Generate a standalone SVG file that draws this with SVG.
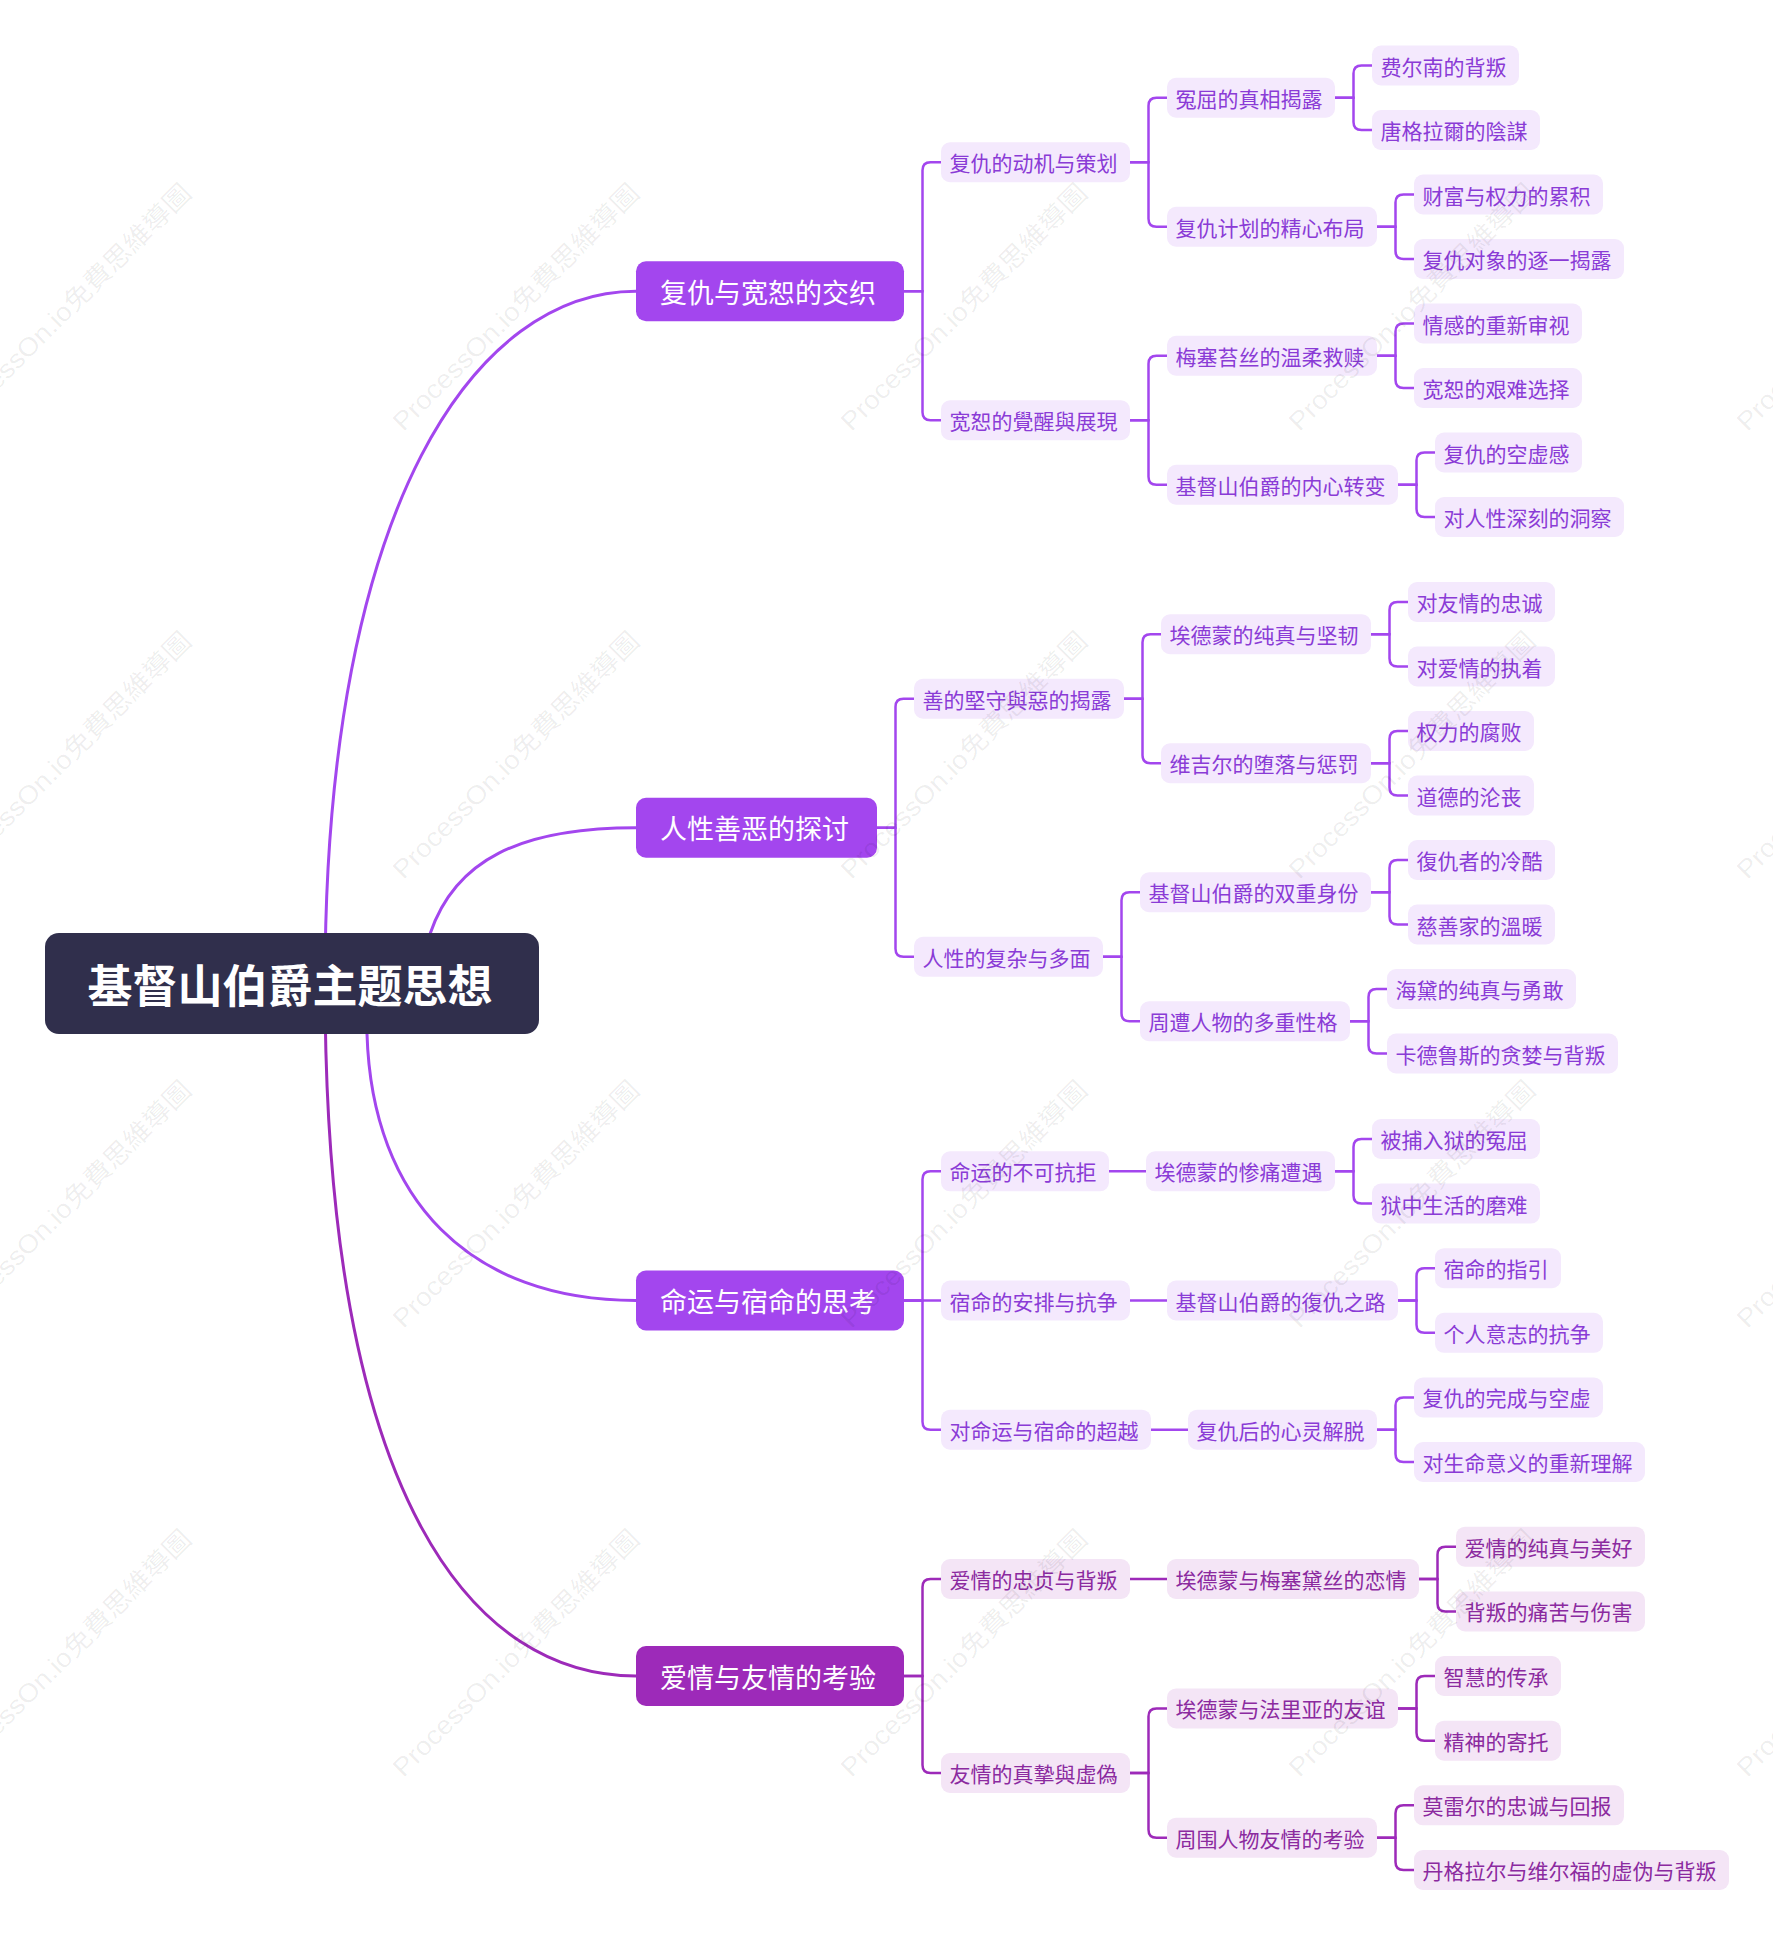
<svg xmlns="http://www.w3.org/2000/svg" width="1773" height="1950" viewBox="0 0 1773 1950">
<style>
text{font-family:"Noto Sans CJK SC","Noto Sans",sans-serif;text-anchor:middle;dominant-baseline:central}
.root rect{fill:#302f4c}
.root text{fill:#fff;font-size:45px;font-weight:bold;transform:translate(-2px,0)}
.l1 rect{fill:#a346ee}
.l1.p rect{fill:#9d2ab9}
.l1 text{fill:#fff;font-size:27px;transform:translate(-2px,0)}
.n rect{fill:#f4e9fd}
.n text{fill:#8a3bd6;font-size:21px;transform:translate(-2px,0)}
.n.p rect{fill:#f4e5f6}
.n.p text{fill:#8b2a9f}
.c path{fill:none;stroke:#a346ee;stroke-width:2.5}
.c path.p{stroke:#9d2ab9}
.c path.r{stroke-width:3}
.wm text{font-family:"Liberation Sans","Noto Sans CJK TC",sans-serif;font-size:26px;fill:#000;fill-opacity:0.07}
</style>
<rect width="1773" height="1950" fill="#fff"/>
<g id="connectors" class="c">
<path class="r" d="M325 983 C325 499 478 291.25 636 291.25"/>
<path class="r" d="M414 962 L430 934 C455 860 520 827.75 636 827.75"/>
<path class="r" d="M365 983 L367 1034 C372 1200 470 1300.5 636 1300.5"/>
<path class="r p" d="M325 983 C325 1510 478 1676 636 1676"/>
<path d="M904 291.25 H922.5 V170.25 Q922.5 162.25 930.5 162.25 H941"/>
<path d="M904 291.25 H922.5 V412.25 Q922.5 420.25 930.5 420.25 H941"/>
<path d="M1130 162.25 H1148.5 V105.75 Q1148.5 97.75 1156.5 97.75 H1167"/>
<path d="M1130 162.25 H1148.5 V218.75 Q1148.5 226.75 1156.5 226.75 H1167"/>
<path d="M1130 420.25 H1148.5 V363.75 Q1148.5 355.75 1156.5 355.75 H1167"/>
<path d="M1130 420.25 H1148.5 V476.75 Q1148.5 484.75 1156.5 484.75 H1167"/>
<path d="M1335 97.75 H1353.5 V73.5 Q1353.5 65.5 1361.5 65.5 H1372"/>
<path d="M1335 97.75 H1353.5 V122 Q1353.5 130 1361.5 130 H1372"/>
<path d="M1377 226.75 H1395.5 V202.5 Q1395.5 194.5 1403.5 194.5 H1414"/>
<path d="M1377 226.75 H1395.5 V251 Q1395.5 259 1403.5 259 H1414"/>
<path d="M1377 355.75 H1395.5 V331.5 Q1395.5 323.5 1403.5 323.5 H1414"/>
<path d="M1377 355.75 H1395.5 V380 Q1395.5 388 1403.5 388 H1414"/>
<path d="M1398 484.75 H1416.5 V460.5 Q1416.5 452.5 1424.5 452.5 H1435"/>
<path d="M1398 484.75 H1416.5 V509 Q1416.5 517 1424.5 517 H1435"/>
<path d="M877 827.75 H895.5 V706.75 Q895.5 698.75 903.5 698.75 H914"/>
<path d="M877 827.75 H895.5 V948.75 Q895.5 956.75 903.5 956.75 H914"/>
<path d="M1124 698.75 H1142.5 V642.25 Q1142.5 634.25 1150.5 634.25 H1161"/>
<path d="M1124 698.75 H1142.5 V755.25 Q1142.5 763.25 1150.5 763.25 H1161"/>
<path d="M1103 956.75 H1121.5 V900.25 Q1121.5 892.25 1129.5 892.25 H1140"/>
<path d="M1103 956.75 H1121.5 V1013.25 Q1121.5 1021.25 1129.5 1021.25 H1140"/>
<path d="M1371 634.25 H1389.5 V610 Q1389.5 602 1397.5 602 H1408"/>
<path d="M1371 634.25 H1389.5 V658.5 Q1389.5 666.5 1397.5 666.5 H1408"/>
<path d="M1371 763.25 H1389.5 V739 Q1389.5 731 1397.5 731 H1408"/>
<path d="M1371 763.25 H1389.5 V787.5 Q1389.5 795.5 1397.5 795.5 H1408"/>
<path d="M1371 892.25 H1389.5 V868 Q1389.5 860 1397.5 860 H1408"/>
<path d="M1371 892.25 H1389.5 V916.5 Q1389.5 924.5 1397.5 924.5 H1408"/>
<path d="M1350 1021.25 H1368.5 V997 Q1368.5 989 1376.5 989 H1387"/>
<path d="M1350 1021.25 H1368.5 V1045.5 Q1368.5 1053.5 1376.5 1053.5 H1387"/>
<path d="M904 1300.5 H922.5 V1179.3 Q922.5 1171.3 930.5 1171.3 H941"/>
<path d="M904 1300.5 H941"/>
<path d="M904 1300.5 H922.5 V1421.7 Q922.5 1429.7 930.5 1429.7 H941"/>
<path d="M1109 1171.3 H1146"/>
<path d="M1130 1300.5 H1167"/>
<path d="M1151 1429.7 H1188"/>
<path d="M1335 1171.3 H1353.5 V1147 Q1353.5 1139 1361.5 1139 H1372"/>
<path d="M1335 1171.3 H1353.5 V1195.6 Q1353.5 1203.6 1361.5 1203.6 H1372"/>
<path d="M1398 1300.5 H1416.5 V1276.2 Q1416.5 1268.2 1424.5 1268.2 H1435"/>
<path d="M1398 1300.5 H1416.5 V1324.8 Q1416.5 1332.8 1424.5 1332.8 H1435"/>
<path d="M1377 1429.7 H1395.5 V1405.4 Q1395.5 1397.4 1403.5 1397.4 H1414"/>
<path d="M1377 1429.7 H1395.5 V1454 Q1395.5 1462 1403.5 1462 H1414"/>
<path class="p" d="M904 1676 H922.5 V1587 Q922.5 1579 930.5 1579 H941"/>
<path class="p" d="M904 1676 H922.5 V1765 Q922.5 1773 930.5 1773 H941"/>
<path class="p" d="M1130 1579 H1167"/>
<path class="p" d="M1130 1773 H1148.5 V1716.4 Q1148.5 1708.4 1156.5 1708.4 H1167"/>
<path class="p" d="M1130 1773 H1148.5 V1829.7 Q1148.5 1837.7 1156.5 1837.7 H1167"/>
<path class="p" d="M1419 1579 H1437.5 V1554.7 Q1437.5 1546.7 1445.5 1546.7 H1456"/>
<path class="p" d="M1419 1579 H1437.5 V1603.4 Q1437.5 1611.4 1445.5 1611.4 H1456"/>
<path class="p" d="M1398 1708.4 H1416.5 V1684 Q1416.5 1676 1424.5 1676 H1435"/>
<path class="p" d="M1398 1708.4 H1416.5 V1732.7 Q1416.5 1740.7 1424.5 1740.7 H1435"/>
<path class="p" d="M1377 1837.7 H1395.5 V1813.3 Q1395.5 1805.3 1403.5 1805.3 H1414"/>
<path class="p" d="M1377 1837.7 H1395.5 V1862 Q1395.5 1870 1403.5 1870 H1414"/>
</g>
<g id="root" class="root"><rect x="45" y="933" width="494" height="101" rx="14"/><text x="292" y="983.5">基督山伯爵主题思想</text></g>
<g id="b1" class="l1"><rect x="636" y="261.25" width="268" height="60" rx="10"/><text x="770" y="291.25">复仇与宽恕的交织</text></g>
<g id="b1-1" class="n"><rect x="941" y="142.25" width="189" height="40" rx="9"/><text x="1035.5" y="162.25">复仇的动机与策划</text></g>
<g id="b1-2" class="n"><rect x="941" y="400.25" width="189" height="40" rx="9"/><text x="1035.5" y="420.25">宽恕的覺醒與展現</text></g>
<g id="b1-1-1" class="n"><rect x="1167" y="77.75" width="168" height="40" rx="9"/><text x="1251" y="97.75">冤屈的真相揭露</text></g>
<g id="b1-1-2" class="n"><rect x="1167" y="206.75" width="210" height="40" rx="9"/><text x="1272" y="226.75">复仇计划的精心布局</text></g>
<g id="b1-2-1" class="n"><rect x="1167" y="335.75" width="210" height="40" rx="9"/><text x="1272" y="355.75">梅塞苔丝的温柔救赎</text></g>
<g id="b1-2-2" class="n"><rect x="1167" y="464.75" width="231" height="40" rx="9"/><text x="1282.5" y="484.75">基督山伯爵的内心转变</text></g>
<g id="b1-1-1-1" class="n"><rect x="1372" y="45.5" width="147" height="40" rx="9"/><text x="1445.5" y="65.5">费尔南的背叛</text></g>
<g id="b1-1-1-2" class="n"><rect x="1372" y="110" width="168" height="40" rx="9"/><text x="1456" y="130">唐格拉爾的陰謀</text></g>
<g id="b1-1-2-1" class="n"><rect x="1414" y="174.5" width="189" height="40" rx="9"/><text x="1508.5" y="194.5">财富与权力的累积</text></g>
<g id="b1-1-2-2" class="n"><rect x="1414" y="239" width="210" height="40" rx="9"/><text x="1519" y="259">复仇对象的逐一揭露</text></g>
<g id="b1-2-1-1" class="n"><rect x="1414" y="303.5" width="168" height="40" rx="9"/><text x="1498" y="323.5">情感的重新审视</text></g>
<g id="b1-2-1-2" class="n"><rect x="1414" y="368" width="168" height="40" rx="9"/><text x="1498" y="388">宽恕的艰难选择</text></g>
<g id="b1-2-2-1" class="n"><rect x="1435" y="432.5" width="147" height="40" rx="9"/><text x="1508.5" y="452.5">复仇的空虚感</text></g>
<g id="b1-2-2-2" class="n"><rect x="1435" y="497" width="189" height="40" rx="9"/><text x="1529.5" y="517">对人性深刻的洞察</text></g>
<g id="b2" class="l1"><rect x="636" y="797.75" width="241" height="60" rx="10"/><text x="756.5" y="827.75">人性善恶的探讨</text></g>
<g id="b2-1" class="n"><rect x="914" y="678.75" width="210" height="40" rx="9"/><text x="1019" y="698.75">善的堅守與惡的揭露</text></g>
<g id="b2-2" class="n"><rect x="914" y="936.75" width="189" height="40" rx="9"/><text x="1008.5" y="956.75">人性的复杂与多面</text></g>
<g id="b2-1-1" class="n"><rect x="1161" y="614.25" width="210" height="40" rx="9"/><text x="1266" y="634.25">埃德蒙的纯真与坚韧</text></g>
<g id="b2-1-2" class="n"><rect x="1161" y="743.25" width="210" height="40" rx="9"/><text x="1266" y="763.25">维吉尔的堕落与惩罚</text></g>
<g id="b2-2-1" class="n"><rect x="1140" y="872.25" width="231" height="40" rx="9"/><text x="1255.5" y="892.25">基督山伯爵的双重身份</text></g>
<g id="b2-2-2" class="n"><rect x="1140" y="1001.25" width="210" height="40" rx="9"/><text x="1245" y="1021.25">周遭人物的多重性格</text></g>
<g id="b2-1-1-1" class="n"><rect x="1408" y="582" width="147" height="40" rx="9"/><text x="1481.5" y="602">对友情的忠诚</text></g>
<g id="b2-1-1-2" class="n"><rect x="1408" y="646.5" width="147" height="40" rx="9"/><text x="1481.5" y="666.5">对爱情的执着</text></g>
<g id="b2-1-2-1" class="n"><rect x="1408" y="711" width="126" height="40" rx="9"/><text x="1471" y="731">权力的腐败</text></g>
<g id="b2-1-2-2" class="n"><rect x="1408" y="775.5" width="126" height="40" rx="9"/><text x="1471" y="795.5">道德的沦丧</text></g>
<g id="b2-2-1-1" class="n"><rect x="1408" y="840" width="147" height="40" rx="9"/><text x="1481.5" y="860">復仇者的冷酷</text></g>
<g id="b2-2-1-2" class="n"><rect x="1408" y="904.5" width="147" height="40" rx="9"/><text x="1481.5" y="924.5">慈善家的溫暖</text></g>
<g id="b2-2-2-1" class="n"><rect x="1387" y="969" width="189" height="40" rx="9"/><text x="1481.5" y="989">海黛的纯真与勇敢</text></g>
<g id="b2-2-2-2" class="n"><rect x="1387" y="1033.5" width="231" height="40" rx="9"/><text x="1502.5" y="1053.5">卡德鲁斯的贪婪与背叛</text></g>
<g id="b3" class="l1"><rect x="636" y="1270.5" width="268" height="60" rx="10"/><text x="770" y="1300.5">命运与宿命的思考</text></g>
<g id="b3-1" class="n"><rect x="941" y="1151.3" width="168" height="40" rx="9"/><text x="1025" y="1171.3">命运的不可抗拒</text></g>
<g id="b3-2" class="n"><rect x="941" y="1280.5" width="189" height="40" rx="9"/><text x="1035.5" y="1300.5">宿命的安排与抗争</text></g>
<g id="b3-3" class="n"><rect x="941" y="1409.7" width="210" height="40" rx="9"/><text x="1046" y="1429.7">对命运与宿命的超越</text></g>
<g id="b3-1-1" class="n"><rect x="1146" y="1151.3" width="189" height="40" rx="9"/><text x="1240.5" y="1171.3">埃德蒙的惨痛遭遇</text></g>
<g id="b3-2-1" class="n"><rect x="1167" y="1280.5" width="231" height="40" rx="9"/><text x="1282.5" y="1300.5">基督山伯爵的復仇之路</text></g>
<g id="b3-3-1" class="n"><rect x="1188" y="1409.7" width="189" height="40" rx="9"/><text x="1282.5" y="1429.7">复仇后的心灵解脱</text></g>
<g id="b3-1-1-1" class="n"><rect x="1372" y="1119" width="168" height="40" rx="9"/><text x="1456" y="1139">被捕入狱的冤屈</text></g>
<g id="b3-1-1-2" class="n"><rect x="1372" y="1183.6" width="168" height="40" rx="9"/><text x="1456" y="1203.6">狱中生活的磨难</text></g>
<g id="b3-2-1-1" class="n"><rect x="1435" y="1248.2" width="126" height="40" rx="9"/><text x="1498" y="1268.2">宿命的指引</text></g>
<g id="b3-2-1-2" class="n"><rect x="1435" y="1312.8" width="168" height="40" rx="9"/><text x="1519" y="1332.8">个人意志的抗争</text></g>
<g id="b3-3-1-1" class="n"><rect x="1414" y="1377.4" width="189" height="40" rx="9"/><text x="1508.5" y="1397.4">复仇的完成与空虚</text></g>
<g id="b3-3-1-2" class="n"><rect x="1414" y="1442" width="231" height="40" rx="9"/><text x="1529.5" y="1462">对生命意义的重新理解</text></g>
<g id="b4" class="l1 p"><rect x="636" y="1646" width="268" height="60" rx="10"/><text x="770" y="1676">爱情与友情的考验</text></g>
<g id="b4-1" class="n p"><rect x="941" y="1559" width="189" height="40" rx="9"/><text x="1035.5" y="1579">爱情的忠贞与背叛</text></g>
<g id="b4-2" class="n p"><rect x="941" y="1753" width="189" height="40" rx="9"/><text x="1035.5" y="1773">友情的真摯與虛偽</text></g>
<g id="b4-1-1" class="n p"><rect x="1167" y="1559" width="252" height="40" rx="9"/><text x="1293" y="1579">埃德蒙与梅塞黛丝的恋情</text></g>
<g id="b4-2-1" class="n p"><rect x="1167" y="1688.4" width="231" height="40" rx="9"/><text x="1282.5" y="1708.4">埃德蒙与法里亚的友谊</text></g>
<g id="b4-2-2" class="n p"><rect x="1167" y="1817.7" width="210" height="40" rx="9"/><text x="1272" y="1837.7">周围人物友情的考验</text></g>
<g id="b4-1-1-1" class="n p"><rect x="1456" y="1526.7" width="189" height="40" rx="9"/><text x="1550.5" y="1546.7">爱情的纯真与美好</text></g>
<g id="b4-1-1-2" class="n p"><rect x="1456" y="1591.4" width="189" height="40" rx="9"/><text x="1550.5" y="1611.4">背叛的痛苦与伤害</text></g>
<g id="b4-2-1-1" class="n p"><rect x="1435" y="1656" width="126" height="40" rx="9"/><text x="1498" y="1676">智慧的传承</text></g>
<g id="b4-2-1-2" class="n p"><rect x="1435" y="1720.7" width="126" height="40" rx="9"/><text x="1498" y="1740.7">精神的寄托</text></g>
<g id="b4-2-2-1" class="n p"><rect x="1414" y="1785.3" width="210" height="40" rx="9"/><text x="1519" y="1805.3">莫雷尔的忠诚与回报</text></g>
<g id="b4-2-2-2" class="n p"><rect x="1414" y="1850" width="315" height="40" rx="9"/><text x="1571.5" y="1870">丹格拉尔与维尔福的虚伪与背叛</text></g>
<g id="watermarks" class="wm">
<text x="68" y="307" transform="rotate(-45 68 307)" textLength="336" lengthAdjust="spacingAndGlyphs">ProcessOn.io免費思維導圖</text>
<text x="516" y="307" transform="rotate(-45 516 307)" textLength="336" lengthAdjust="spacingAndGlyphs">ProcessOn.io免費思維導圖</text>
<text x="964" y="307" transform="rotate(-45 964 307)" textLength="336" lengthAdjust="spacingAndGlyphs">ProcessOn.io免費思維導圖</text>
<text x="1412" y="307" transform="rotate(-45 1412 307)" textLength="336" lengthAdjust="spacingAndGlyphs">ProcessOn.io免費思維導圖</text>
<text x="1860" y="307" transform="rotate(-45 1860 307)" textLength="336" lengthAdjust="spacingAndGlyphs">ProcessOn.io免費思維導圖</text>
<text x="68" y="755" transform="rotate(-45 68 755)" textLength="336" lengthAdjust="spacingAndGlyphs">ProcessOn.io免費思維導圖</text>
<text x="516" y="755" transform="rotate(-45 516 755)" textLength="336" lengthAdjust="spacingAndGlyphs">ProcessOn.io免費思維導圖</text>
<text x="964" y="755" transform="rotate(-45 964 755)" textLength="336" lengthAdjust="spacingAndGlyphs">ProcessOn.io免費思維導圖</text>
<text x="1412" y="755" transform="rotate(-45 1412 755)" textLength="336" lengthAdjust="spacingAndGlyphs">ProcessOn.io免費思維導圖</text>
<text x="1860" y="755" transform="rotate(-45 1860 755)" textLength="336" lengthAdjust="spacingAndGlyphs">ProcessOn.io免費思維導圖</text>
<text x="68" y="1204" transform="rotate(-45 68 1204)" textLength="336" lengthAdjust="spacingAndGlyphs">ProcessOn.io免費思維導圖</text>
<text x="516" y="1204" transform="rotate(-45 516 1204)" textLength="336" lengthAdjust="spacingAndGlyphs">ProcessOn.io免費思維導圖</text>
<text x="964" y="1204" transform="rotate(-45 964 1204)" textLength="336" lengthAdjust="spacingAndGlyphs">ProcessOn.io免費思維導圖</text>
<text x="1412" y="1204" transform="rotate(-45 1412 1204)" textLength="336" lengthAdjust="spacingAndGlyphs">ProcessOn.io免費思維導圖</text>
<text x="1860" y="1204" transform="rotate(-45 1860 1204)" textLength="336" lengthAdjust="spacingAndGlyphs">ProcessOn.io免費思維導圖</text>
<text x="68" y="1653" transform="rotate(-45 68 1653)" textLength="336" lengthAdjust="spacingAndGlyphs">ProcessOn.io免費思維導圖</text>
<text x="516" y="1653" transform="rotate(-45 516 1653)" textLength="336" lengthAdjust="spacingAndGlyphs">ProcessOn.io免費思維導圖</text>
<text x="964" y="1653" transform="rotate(-45 964 1653)" textLength="336" lengthAdjust="spacingAndGlyphs">ProcessOn.io免費思維導圖</text>
<text x="1412" y="1653" transform="rotate(-45 1412 1653)" textLength="336" lengthAdjust="spacingAndGlyphs">ProcessOn.io免費思維導圖</text>
<text x="1860" y="1653" transform="rotate(-45 1860 1653)" textLength="336" lengthAdjust="spacingAndGlyphs">ProcessOn.io免費思維導圖</text>
</g>
</svg>
